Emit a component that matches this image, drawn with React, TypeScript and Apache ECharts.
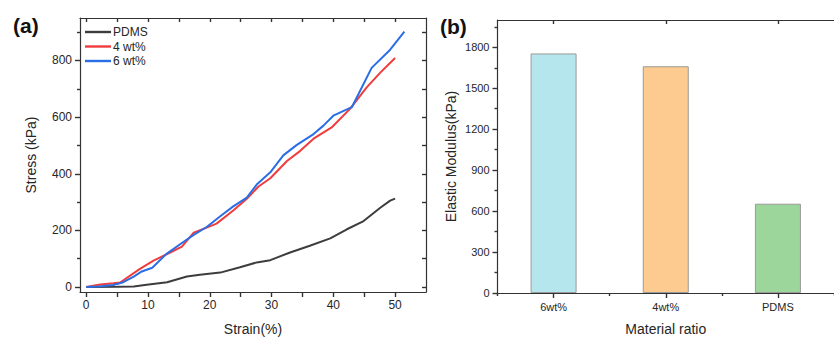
import React, { useEffect, useRef } from "react";
import * as echarts from "echarts";

const pdmsCurve: number[][] = [[0,0],[5,1],[7.7,2],[9.8,8],[13.1,17],[16.3,37],[18.4,43],[21.7,51],[24.9,70],[27.6,87],[29.8,95],[33,122],[36.2,146],[39.5,172],[42.2,204],[44.9,233],[47.6,280],[49.2,305],[50,312]];
const wt4Curve: number[][] = [[0,0],[2.3,9],[4.4,13],[5.5,16],[8.7,64],[10.9,93],[13.6,122],[15.5,143],[17.4,192],[19.5,210],[21.1,224],[23.8,270],[26,312],[27.9,355],[29.8,384],[32.5,445],[34.6,480],[36.8,524],[39.8,565],[42.7,629],[45.4,705],[47.6,757],[50,809]];
const wt6Curve: number[][] = [[0,0],[2,2],[4.4,7],[6,17],[7.7,37],[9,55],[10.7,68],[13,117],[15.2,151],[17.4,184],[19.5,212],[21.7,250],[23.8,285],[26,316],[27.6,362],[29.8,405],[31.9,465],[34.1,502],[36.8,540],[38.4,570],[40,605],[43,635],[46.2,774],[49.2,838],[51.5,902]];

const strainLabels = [0, 10, 20, 30, 40, 50];
const strainTicks = [0, 5, 10, 15, 20, 25, 30, 35, 40, 45, 50];
const stressLabels = [0, 200, 400, 600, 800];
const stressMinor = [100, 300, 500, 700, 900];
const stressAll = [0, 100, 200, 300, 400, 500, 600, 700, 800, 900];

const materials = ["6wt%", "4wt%", "PDMS"];
const modulus = [1755, 1661, 654];
const barColors = ["#b5e6ee", "#fdcb8f", "#9dd69a"];
const modulusLabels = [0, 300, 600, 900, 1200, 1500, 1800];
const modulusMinor = [150, 450, 750, 1050, 1350, 1650, 1950];

const AX = "#333333";
const TXT = "#262626";
const FONT = "Liberation Sans, Arial, sans-serif";
const plain = (v: number) => String(v);

export default function App() {
  const ref = useRef<HTMLDivElement>(null);
  useEffect(() => {
    if (!ref.current) return;
    const chart = echarts.init(ref.current, undefined, { renderer: "svg" });
    const line = { show: true, onZero: false, lineStyle: { color: AX, width: 1.2 } };
    const hiddenLine = { show: false, onZero: false };
    const tick = (length: number, inside: boolean, extra: any = {}) => ({
      show: true, length, inside, lineStyle: { color: AX, width: 1.4 }, ...extra,
    });
    chart.setOption({
      animation: false,
      backgroundColor: "#ffffff",
      textStyle: { fontFamily: FONT },
      grid: [
        { left: 80, top: 18, width: 346, height: 277 },
        { left: 497.5, top: 20, width: 345, height: 276.7 },
      ],
      legend: {
        orient: "vertical",
        left: 85,
        top: 25,
        padding: 0,
        icon: "rect",
        itemWidth: 26,
        itemHeight: 2.4,
        itemGap: 0.5,
        textStyle: { fontSize: 12, lineHeight: 14, color: TXT, fontFamily: FONT, padding: [0, 0, 0, -3] },
        data: ["PDMS", "4 wt%", "6 wt%"],
      },
      xAxis: [
        {
          type: "value", gridIndex: 0, min: -1, max: 55, position: "bottom",
          axisLine: line,
          axisTick: tick(5, false, { customValues: strainTicks }),
          axisLabel: { customValues: strainLabels, fontSize: 12, color: TXT, margin: 7, formatter: plain },
          splitLine: { show: false },
          name: "Strain(%)", nameLocation: "middle", nameGap: 30,
          nameTextStyle: { fontSize: 14, color: TXT },
        },
        {
          type: "value", gridIndex: 0, min: -1, max: 55, position: "top",
          axisLine: line,
          axisTick: tick(4, true, { customValues: strainTicks }),
          axisLabel: { show: false }, splitLine: { show: false },
        },
        {
          type: "category", gridIndex: 1, data: materials, position: "bottom",
          axisLine: line,
          axisTick: tick(5, false, { alignWithLabel: true }),
          axisLabel: { fontSize: 11, color: TXT, margin: 8 },
          name: "Material ratio", nameLocation: "middle", nameGap: 29,
          nameTextStyle: { fontSize: 14, color: TXT },
        },
        {
          type: "category", gridIndex: 1, data: materials, position: "bottom",
          axisLine: hiddenLine,
          axisTick: tick(3, false),
          axisLabel: { show: false },
        },
        {
          type: "category", gridIndex: 1, data: materials, position: "top",
          axisLine: line,
          axisTick: tick(4, true, { alignWithLabel: true }),
          axisLabel: { show: false },
        },
      ],
      yAxis: [
        {
          type: "value", gridIndex: 0, min: -17.5, max: 950, position: "left",
          axisLine: line,
          axisTick: tick(5, false, { customValues: stressLabels }),
          axisLabel: { customValues: stressLabels, fontSize: 12, color: TXT, margin: 8, formatter: plain },
          splitLine: { show: false },
          name: "Stress (kPa)", nameLocation: "middle", nameGap: 42,
          nameTextStyle: { fontSize: 14, color: TXT },
        },
        {
          type: "value", gridIndex: 0, min: -17.5, max: 950, position: "left",
          axisLine: hiddenLine,
          axisTick: tick(3, false, { customValues: stressMinor }),
          axisLabel: { show: false }, splitLine: { show: false },
        },
        {
          type: "value", gridIndex: 0, min: -17.5, max: 950, position: "right",
          axisLine: line,
          axisTick: tick(4, true, { customValues: stressAll }),
          axisLabel: { show: false }, splitLine: { show: false },
        },
        {
          type: "value", gridIndex: 1, min: 0, max: 2000, position: "left",
          axisLine: line,
          axisTick: tick(5, false, { customValues: modulusLabels }),
          axisLabel: { customValues: modulusLabels, fontSize: 11, color: TXT, margin: 8, formatter: plain },
          splitLine: { show: false },
          name: "Elastic Modulus(kPa)", nameLocation: "middle", nameGap: 40,
          nameTextStyle: { fontSize: 14, color: TXT },
        },
        {
          type: "value", gridIndex: 1, min: 0, max: 2000, position: "left",
          axisLine: hiddenLine,
          axisTick: tick(3, false, { customValues: modulusMinor }),
          axisLabel: { show: false }, splitLine: { show: false },
        },
      ],
      graphic: [
        { type: "text", left: 13, top: 15, style: { text: "(a)", font: "bold 21px " + FONT, fill: "#111" } },
        { type: "text", left: 440, top: 16, style: { text: "(b)", font: "bold 21px " + FONT, fill: "#111" } },
      ],
      series: [
        {
          name: "PDMS", type: "line", xAxisIndex: 0, yAxisIndex: 0, data: pdmsCurve,
          symbol: "none", lineStyle: { color: "#3d3d3d", width: 2 }, itemStyle: { color: "#3d3d3d" }, z: 3,
        },
        {
          name: "4 wt%", type: "line", xAxisIndex: 0, yAxisIndex: 0, data: wt4Curve,
          symbol: "none", lineStyle: { color: "#f03c3c", width: 2 }, itemStyle: { color: "#f03c3c" }, z: 3,
        },
        {
          name: "6 wt%", type: "line", xAxisIndex: 0, yAxisIndex: 0, data: wt6Curve,
          symbol: "none", lineStyle: { color: "#2a6ee6", width: 2 }, itemStyle: { color: "#2a6ee6" }, z: 4,
        },
        {
          name: "Elastic Modulus", type: "bar", xAxisIndex: 2, yAxisIndex: 3, barWidth: 46,
          data: modulus.map((v, i) => ({ value: v, itemStyle: { color: barColors[i] } })),
          itemStyle: { borderColor: "#999999", borderWidth: 1 },
        },
      ],
    });
    return () => chart.dispose();
  }, []);
  return (
    <div
      ref={ref}
      style={{ position: "fixed", left: 0, top: 0, width: 834, height: 341, background: "#fff" }}
    />
  );
}
